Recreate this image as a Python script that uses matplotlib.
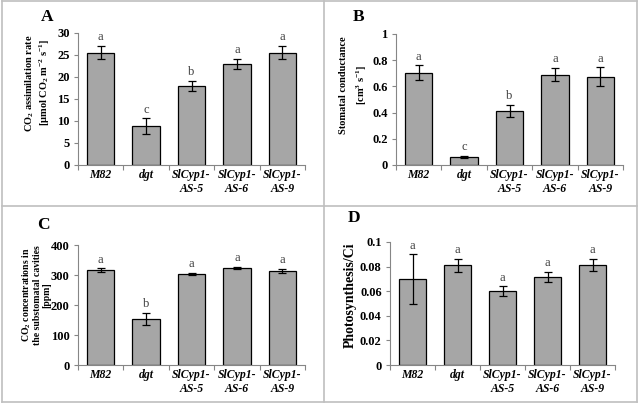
import numpy as np
import matplotlib
matplotlib.use("Agg")
import matplotlib.pyplot as plt
from matplotlib.lines import Line2D

plt.rcParams["font.family"] = "Liberation Serif"
plt.rcParams["mathtext.fontset"] = "custom"
plt.rcParams["mathtext.rm"] = "Liberation Serif:bold"
plt.rcParams["mathtext.it"] = "Liberation Serif:bold:italic"
plt.rcParams["mathtext.bf"] = "Liberation Serif:bold"

# %% Data

lines = ["M82", "dgt", "SlCyp1-\nAS-5", "SlCyp1-\nAS-6", "SlCyp1-\nAS-9"]

co2_rate = [25.5, 8.8, 18.0, 23.0, 25.5]
co2_rate_err = [1.5, 1.8, 1.2, 1.2, 1.5]
co2_rate_sig = ["a", "c", "b", "a", "a"]

stom_cond = [0.705, 0.06, 0.415, 0.69, 0.675]
stom_cond_err = [0.055, 0.01, 0.045, 0.05, 0.07]
stom_cond_sig = ["a", "c", "b", "a", "a"]

ci_conc = [316, 153, 304, 324, 313]
ci_conc_err = [6, 20, 3, 4, 7]
ci_conc_sig = ["a", "b", "a", "a", "a"]

ps_ci = [0.070, 0.081, 0.060, 0.0715, 0.0815]
ps_ci_err = [0.020, 0.005, 0.004, 0.004, 0.005]
ps_ci_sig = ["a", "a", "a", "a", "a"]

# %% Figure

W, H = 638, 404
fig = plt.figure(figsize=(W / 100, H / 100), dpi=100)


def px_axes(left, right, top, bottom):
    return fig.add_axes([left / W, 1 - bottom / H,
                         (right - left) / W, (bottom - top) / H])


def fig_text(xp, yp, s, **kw):
    return fig.text(xp / W, 1 - yp / H, s, **kw)


panels = [
    dict(box=(78, 305, 33, 165), vals=co2_rate, err=co2_rate_err,
         sig=co2_rate_sig, ymax=30, step=5,
         ylab="CO$_2$ assimilation rate\n[µmol CO$_2$ m$^{-2}$ s$^{-1}$]",
         ypos=(38, 83), ysize=7.5, yspace=1.15,
         letter="A", lpos=(47, 17)),
    dict(box=(396, 623, 34, 165), vals=stom_cond, err=stom_cond_err,
         sig=stom_cond_sig, ymax=1, step=0.2,
         ylab="Stomatal conductance\n[cm$^3$ s$^{-1}$]",
         ypos=(354, 85), ysize=7.5, yspace=1.7,
         letter="B", lpos=(359, 17)),
    dict(box=(78, 305, 245, 365), vals=ci_conc, err=ci_conc_err,
         sig=ci_conc_sig, ymax=400, step=100,
         ylab="CO$_2$ concentrations in\nthe substomatal cavities\n[ppm]",
         ypos=(36, 295), ysize=7, yspace=1.05,
         letter="C", lpos=(43, 225)),
    dict(box=(390, 615, 242, 365), vals=ps_ci, err=ps_ci_err,
         sig=ps_ci_sig, ymax=0.1, step=0.02,
         ylab="Photosynthesis/Ci",
         ypos=(350, 295), ysize=10, yspace=1.1,
         letter="D", lpos=(354, 218)),
]

x = np.arange(len(lines))
for p in panels:
    ax = px_axes(*p["box"])
    ax.bar(x, p["vals"], width=0.6, color="#a6a6a6", edgecolor="black",
           linewidth=0.9, zorder=2)
    ax.errorbar(x, p["vals"], yerr=p["err"], fmt="none", ecolor="black",
                elinewidth=0.9, capsize=3, capthick=0.9, zorder=3)
    for xi, v, e, s in zip(x, p["vals"], p["err"], p["sig"]):
        ax.annotate(s, (xi, v + e), xytext=(0, 2), textcoords="offset points",
                    ha="center", va="bottom", fontsize=9, color="#404040")
    ax.set_xlim(-0.5, len(lines) - 0.5)
    ax.set_ylim(0, p["ymax"])
    yt = np.arange(0, p["ymax"] + p["step"] / 2, p["step"])
    ax.set_yticks(yt)
    ax.set_yticklabels(["{:g}".format(round(t, 3)) for t in yt],
                       fontweight="bold", fontsize=9)
    ax.set_xticks(x)
    ax.set_xticklabels(lines, fontstyle="italic", fontweight="bold",
                       fontsize=8.5, linespacing=1.25)
    ax.set_xticks(np.arange(-0.5, len(lines)), minor=True)
    ax.tick_params(axis="x", which="major", length=0, pad=3)
    ax.tick_params(axis="x", which="minor", length=3.5, color="#868686",
                   width=0.8)
    ax.tick_params(axis="y", length=3, color="#868686", width=0.8, pad=3)
    for sp in ["top", "right"]:
        ax.spines[sp].set_visible(False)
    for sp in ["left", "bottom"]:
        ax.spines[sp].set_color("#868686")
        ax.spines[sp].set_linewidth(0.8)
    fig_text(p["ypos"][0], p["ypos"][1], p["ylab"], rotation=90,
             ha="center", va="center", multialignment="center",
             fontweight="bold", fontsize=p["ysize"], linespacing=p["yspace"])
    fig_text(p["lpos"][0], p["lpos"][1], p["letter"],
             fontsize=12.5, fontweight="bold", ha="center", va="center")

# panel borders
border = "#bfbfbf"
for xs, ys in [([1.5, 1.5], [0.5, 402]), ([637, 637], [0.5, 402]),
               ([1.5, 637], [0.5, 0.5]), ([1.5, 637], [402, 402]),
               ([324, 324], [0.5, 402]), ([1.5, 637], [206, 206])]:
    fig.add_artist(Line2D([v / W for v in xs], [1 - v / H for v in ys],
                          color=border, linewidth=1.2))

fig.savefig("out.png", dpi=100)
